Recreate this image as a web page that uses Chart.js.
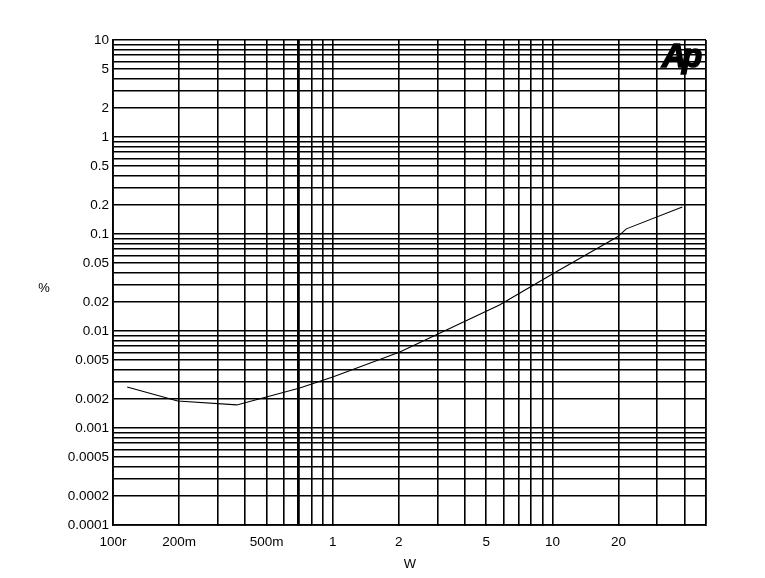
<!DOCTYPE html>
<html>
<head>
<meta charset="utf-8">
<script src="https://cdn.jsdelivr.net/npm/chart.js@4/dist/chart.umd.min.js"></script>
<style>
  html, body { margin: 0; padding: 0; background: #fff; }
  #wrap { width: 765px; height: 578px; position: relative; }
</style>
</head>
<body>
<div id="wrap"><canvas id="c" width="765" height="578"></canvas></div>
<script>
// Data (W vs %)
const powerW = [0.116, 0.197, 0.366, 0.708, 1.0, 2.02, 5.74, 10.0, 19.7, 21.7, 39.0];
const thdPct = [0.00265, 0.0019, 0.00173, 0.00258, 0.00336, 0.00608, 0.0185, 0.0387, 0.093, 0.113, 0.19];

// Tick labels
const xTickValues = [0.1, 0.2, 0.5, 1, 2, 5, 10, 20];
const xTickLabels = ['100r', '200m', '500m', '1', '2', '5', '10', '20'];
const yTickValues = [10, 5, 2, 1, 0.5, 0.2, 0.1, 0.05, 0.02, 0.01, 0.005, 0.002, 0.001, 0.0005, 0.0002, 0.0001];
const yTickLabels = ['10', '5', '2', '1', '0.5', '0.2', '0.1', '0.05', '0.02', '0.01', '0.005', '0.002', '0.001', '0.0005', '0.0002', '0.0001'];

// Grid positions (log decades, 1..9 per decade)
const xGrid = [];
for (let e = -1; e <= 1; e++) for (let d = 1; d <= 9; d++) { const v = d * Math.pow(10, e); if (v <= 50) xGrid.push(v); }
xGrid.push(50);
const yGrid = [];
for (let e = -4; e <= 0; e++) for (let d = 1; d <= 9; d++) yGrid.push(d * Math.pow(10, e));
yGrid.push(10);

function findLabel(v, vals, labs) {
  for (let i = 0; i < vals.length; i++) if (Math.abs(Math.log10(v / vals[i])) < 1e-6) return labs[i];
  return '';
}

const FONT = "'Liberation Sans', Arial, sans-serif";

const extras = {
  id: 'extras',
  afterDraw(chart) {
    const ctx = chart.ctx;
    ctx.save();
    ctx.fillStyle = '#000';
    ctx.strokeStyle = '#000';
    ctx.font = "13px " + FONT;
    ctx.textAlign = 'center';
    ctx.textBaseline = 'middle';
    ctx.fillText('%', 44, 288);
    ctx.fillText('W', 410, 564);
    ctx.font = "italic bold 33px " + FONT;
    ctx.textAlign = 'left';
    ctx.textBaseline = 'alphabetic';
    ctx.lineWidth = 1.6;
    ctx.fillText('A', 662, 67);
    ctx.strokeText('A', 662, 67);
    ctx.fillText('p', 682, 67);
    ctx.strokeText('p', 682, 67);
    ctx.restore();
  }
};

new Chart(document.getElementById('c'), {
  type: 'line',
  data: {
    datasets: [{
      data: powerW.map((x, i) => ({ x: x, y: thdPct[i] })),
      borderColor: '#000',
      borderWidth: 1.1,
      pointRadius: 0,
      tension: 0,
      fill: false
    }]
  },
  options: {
    responsive: false,
    animation: false,
    layout: { padding: { left: 0, right: 59, top: 40, bottom: 0 } },
    plugins: { legend: { display: false }, tooltip: { enabled: false } },
    scales: {
      x: {
        type: 'logarithmic',
        min: 0.1, max: 50,
        afterBuildTicks: s => { s.ticks = xGrid.map(v => ({ value: v })); },
        afterFit: s => { s.height = 53; },
        grid: {
          color: '#000',
          lineWidth: c => (c.tick && Math.abs(c.tick.value - 0.7) < 1e-6) ? 2.8 : 1.6,
          tickLength: 0
        },
        border: { display: true, color: '#000', width: 1.8 },
        ticks: {
          autoSkip: false, maxRotation: 0, padding: 9,
          color: '#000', font: { family: FONT, size: 13.5 },
          callback: v => findLabel(v, xTickValues, xTickLabels)
        }
      },
      y: {
        type: 'logarithmic',
        min: 0.0001, max: 10,
        afterBuildTicks: s => { s.ticks = yGrid.map(v => ({ value: v })); },
        afterFit: s => { s.width = 113; },
        grid: { color: '#000', lineWidth: 1.6, tickLength: 0 },
        border: { display: true, color: '#000', width: 1.8 },
        ticks: {
          autoSkip: false, padding: 4,
          color: '#000', font: { family: FONT, size: 13.5 },
          callback: v => findLabel(v, yTickValues, yTickLabels)
        }
      }
    }
  },
  plugins: [extras]
});
</script>
</body>
</html>
